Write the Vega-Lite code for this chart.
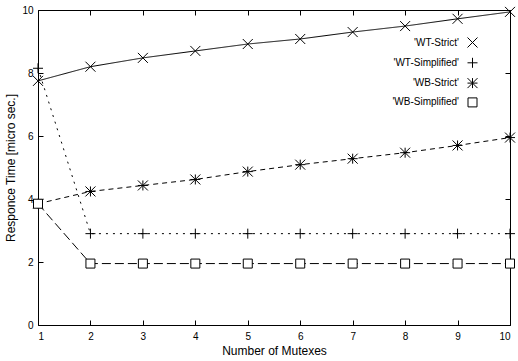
{
  "$schema": "https://vega.github.io/schema/vega-lite/v6.json",
  "width": 472,
  "height": 315,
  "autosize": {"type": "none"},
  "padding": {"left": 38, "top": 10, "right": 8, "bottom": 36},
  "background": "white",
  "config": {
    "font": "Liberation Sans",
    "view": {"stroke": "black", "strokeWidth": 1},
    "axis": {
      "grid": false,
      "domain": false,
      "tickColor": "black",
      "tickSize": -5,
      "tickWidth": 1,
      "labelColor": "black",
      "labelFontSize": 10,
      "labelFont": "Liberation Sans",
      "titleFont": "Liberation Sans",
      "titleFontSize": 12,
      "titleFontWeight": "normal",
      "titleColor": "black"
    }
  },
  "data": {
    "values": [
      {"series": "WT-Strict", "mutexes": 1, "time": 7.75},
      {"series": "WT-Strict", "mutexes": 2, "time": 8.2},
      {"series": "WT-Strict", "mutexes": 3, "time": 8.48},
      {"series": "WT-Strict", "mutexes": 4, "time": 8.7},
      {"series": "WT-Strict", "mutexes": 5, "time": 8.92},
      {"series": "WT-Strict", "mutexes": 6, "time": 9.08},
      {"series": "WT-Strict", "mutexes": 7, "time": 9.3},
      {"series": "WT-Strict", "mutexes": 8, "time": 9.49},
      {"series": "WT-Strict", "mutexes": 9, "time": 9.72},
      {"series": "WT-Strict", "mutexes": 10, "time": 9.94},
      {"series": "WT-Simplified", "mutexes": 1, "time": 8.15},
      {"series": "WT-Simplified", "mutexes": 2, "time": 2.9},
      {"series": "WT-Simplified", "mutexes": 3, "time": 2.9},
      {"series": "WT-Simplified", "mutexes": 4, "time": 2.9},
      {"series": "WT-Simplified", "mutexes": 5, "time": 2.9},
      {"series": "WT-Simplified", "mutexes": 6, "time": 2.9},
      {"series": "WT-Simplified", "mutexes": 7, "time": 2.9},
      {"series": "WT-Simplified", "mutexes": 8, "time": 2.9},
      {"series": "WT-Simplified", "mutexes": 9, "time": 2.9},
      {"series": "WT-Simplified", "mutexes": 10, "time": 2.9},
      {"series": "WB-Strict", "mutexes": 1, "time": 3.85},
      {"series": "WB-Strict", "mutexes": 2, "time": 4.24},
      {"series": "WB-Strict", "mutexes": 3, "time": 4.43},
      {"series": "WB-Strict", "mutexes": 4, "time": 4.62},
      {"series": "WB-Strict", "mutexes": 5, "time": 4.87},
      {"series": "WB-Strict", "mutexes": 6, "time": 5.09},
      {"series": "WB-Strict", "mutexes": 7, "time": 5.28},
      {"series": "WB-Strict", "mutexes": 8, "time": 5.47},
      {"series": "WB-Strict", "mutexes": 9, "time": 5.7},
      {"series": "WB-Strict", "mutexes": 10, "time": 5.95},
      {"series": "WB-Simplified", "mutexes": 1, "time": 3.85},
      {"series": "WB-Simplified", "mutexes": 2, "time": 1.95},
      {"series": "WB-Simplified", "mutexes": 3, "time": 1.95},
      {"series": "WB-Simplified", "mutexes": 4, "time": 1.95},
      {"series": "WB-Simplified", "mutexes": 5, "time": 1.95},
      {"series": "WB-Simplified", "mutexes": 6, "time": 1.95},
      {"series": "WB-Simplified", "mutexes": 7, "time": 1.95},
      {"series": "WB-Simplified", "mutexes": 8, "time": 1.95},
      {"series": "WB-Simplified", "mutexes": 9, "time": 1.95},
      {"series": "WB-Simplified", "mutexes": 10, "time": 1.95}
    ]
  },
  "layer": [
    {
      "mark": {"type": "line", "color": "black", "strokeWidth": 1},
      "encoding": {
        "x": {
          "field": "mutexes", "type": "quantitative",
          "scale": {"domain": [1, 10], "nice": false, "zero": false},
          "axis": {"orient": "bottom", "title": "Number of Mutexes", "values": [1,2,3,4,5,6,7,8,9,10], "labelPadding": 11, "titlePadding": 4}
        },
        "y": {
          "field": "time", "type": "quantitative",
          "scale": {"domain": [0, 10], "nice": false},
          "axis": {"orient": "left", "title": "Responce Time [micro sec.]", "values": [0,2,4,6,8,10], "labelPadding": 10, "titlePadding": 4}
        },
        "strokeDash": {
          "field": "series", "type": "nominal",
          "scale": {"domain": ["WT-Simplified", "WT-Strict", "WB-Strict", "WB-Simplified"], "range": [[2, 5], [1, 0], [5, 4], [9, 4]]},
          "legend": null
        }
      }
    },
    {
      "mark": {"type": "point", "fill": "white", "stroke": "black", "strokeWidth": 1, "opacity": 1, "size": 100},
      "encoding": {
        "x": {
          "field": "mutexes", "type": "quantitative",
          "axis": {"orient": "top", "title": null, "labels": false, "values": [1,2,3,4,5,6,7,8,9,10]}
        },
        "y": {
          "field": "time", "type": "quantitative",
          "axis": {"orient": "right", "title": null, "labels": false, "values": [0,2,4,6,8,10]}
        },
        "shape": {
          "field": "series", "type": "nominal",
          "scale": {
            "domain": ["WT-Strict", "WT-Simplified", "WB-Strict", "WB-Simplified"],
            "range": [
              "M-1,-1L1,1M-1,1L1,-1",
              "M-1,0L1,0M0,-1L0,1",
              "M-1,-1L1,1M-1,1L1,-1M-1,0L1,0M0,-1L0,1",
              "M-0.9,-0.9L0.9,-0.9L0.9,0.9L-0.9,0.9Z"
            ]
          },
          "legend": {
            "orient": "none",
            "legendX": 429,
            "legendY": 27,
            "title": null,
            "padding": 0,
            "rowPadding": 5.3,
            "labelAlign": "right",
            "labelOffset": -19,
            "labelFontSize": 10,
            "labelColor": "black",
            "symbolSize": 100,
            "symbolFillColor": "white",
            "symbolStrokeColor": "black",
            "symbolStrokeWidth": 1,
            "labelExpr": "\"'\" + datum.label + \"'\"",
            "encoding": {
              "symbols": {
                "stroke": {"value": "black"},
                "fill": {"value": "white"},
                "strokeWidth": {"value": 1},
                "opacity": {"value": 1},
                "strokeOpacity": {"value": 1}
              }
            }
          }
        }
      }
    }
  ],
  "resolve": {"axis": {"x": "independent", "y": "independent"}}
}
